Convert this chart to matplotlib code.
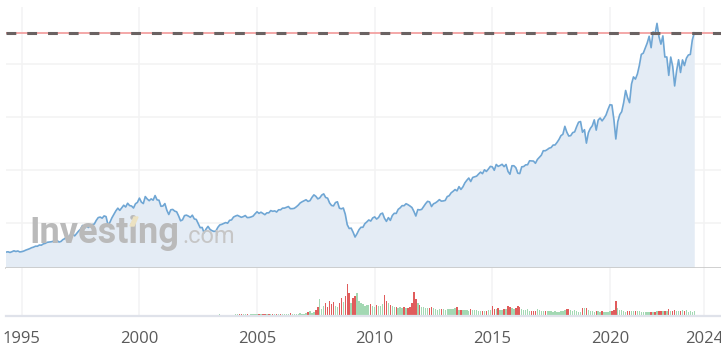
import matplotlib
matplotlib.use('Agg')
import matplotlib.pyplot as plt
import numpy as np
from matplotlib.patches import Polygon

# monthly closes, Jan 1994 .. Jul 2023 (plotted at month end)
close = [
    481.6, 467.1, 445.8, 450.9, 456.5, 444.3, 458.3, 475.5, 462.7, 472.4, 453.7, 459.3,
    470.4, 487.4, 500.7, 514.7, 533.4, 544.8, 562.1, 561.9, 584.4, 581.5, 605.4, 615.9,
    636.0, 640.4, 645.5, 654.2, 669.1, 670.6, 639.9, 652.0, 687.3, 705.3, 757.0, 740.7,
    786.2, 790.8, 757.1, 801.3, 848.3, 885.1, 954.3, 899.5, 947.3, 914.6, 955.4, 970.4,
    980.3, 1049.3, 1101.8, 1111.8, 1090.8, 1133.8, 1120.7, 957.3, 1017.0, 1098.7, 1163.6, 1229.2,
    1279.6, 1238.3, 1286.4, 1335.2, 1301.8, 1372.7, 1328.7, 1320.4, 1282.7, 1362.9, 1388.9, 1469.3,
    1394.5, 1366.4, 1498.6, 1452.4, 1420.6, 1454.6, 1430.8, 1517.7, 1436.5, 1429.4, 1315.2, 1320.3,
    1366.0, 1239.9, 1160.3, 1249.5, 1255.8, 1224.4, 1211.2, 1133.6, 1040.9, 1059.8, 1139.5, 1148.1,
    1130.2, 1106.7, 1147.4, 1076.9, 1067.1, 989.8, 911.6, 916.1, 815.3, 885.8, 936.3, 879.8,
    855.7, 841.2, 848.2, 916.9, 963.6, 974.5, 990.3, 1008.0, 996.0, 1050.7, 1058.2, 1111.9,
    1131.1, 1144.9, 1126.2, 1107.3, 1120.7, 1140.8, 1101.7, 1104.2, 1114.6, 1130.2, 1173.8, 1211.9,
    1181.3, 1203.6, 1180.6, 1156.9, 1191.5, 1191.3, 1234.2, 1220.3, 1228.8, 1207.0, 1249.5, 1248.3,
    1280.1, 1280.7, 1294.9, 1310.6, 1270.1, 1270.2, 1276.7, 1303.8, 1335.9, 1377.9, 1400.6, 1418.3,
    1438.2, 1406.8, 1420.9, 1482.4, 1530.6, 1503.4, 1455.3, 1474.0, 1526.8, 1549.4, 1481.1, 1468.4,
    1378.6, 1330.6, 1322.7, 1385.6, 1400.4, 1280.0, 1267.4, 1282.8, 1166.4, 968.8, 896.2, 903.3,
    825.9, 735.1, 797.9, 872.8, 919.1, 919.3, 987.5, 1020.6, 1057.1, 1036.2, 1095.6, 1115.1,
    1073.9, 1104.5, 1169.4, 1186.7, 1089.4, 1030.7, 1101.6, 1049.3, 1141.2, 1183.3, 1180.6, 1257.6,
    1286.1, 1327.2, 1325.8, 1363.6, 1345.2, 1320.6, 1292.3, 1218.9, 1131.4, 1253.3, 1247.0, 1257.6,
    1312.4, 1365.7, 1408.5, 1397.9, 1310.3, 1362.2, 1379.3, 1406.6, 1440.7, 1412.2, 1416.2, 1426.2,
    1498.1, 1514.7, 1569.2, 1597.6, 1630.7, 1606.3, 1685.7, 1633.0, 1681.6, 1756.5, 1805.8, 1848.4,
    1782.6, 1859.5, 1872.3, 1883.9, 1923.6, 1960.2, 1930.7, 2003.4, 1972.3, 2018.1, 2067.6, 2058.9,
    1995.0, 2104.5, 2067.9, 2085.5, 2107.4, 2063.1, 2103.8, 1972.2, 1920.0, 2079.4, 2080.4, 2043.9,
    1940.2, 1932.2, 2059.7, 2065.3, 2096.9, 2098.9, 2173.6, 2171.0, 2168.3, 2126.2, 2199.0, 2238.8,
    2278.9, 2363.6, 2362.7, 2384.2, 2411.8, 2423.4, 2470.3, 2471.7, 2519.4, 2575.3, 2647.6, 2673.6,
    2823.8, 2713.8, 2640.9, 2648.1, 2705.3, 2718.4, 2816.3, 2901.5, 2914.0, 2711.7, 2760.2, 2506.9,
    2704.1, 2784.5, 2834.4, 2945.8, 2752.1, 2941.8, 2980.4, 2926.5, 2976.7, 3037.6, 3141.0, 3230.8,
    3225.5, 2954.2, 2584.6, 2912.4, 3044.3, 3100.3, 3271.1, 3500.3, 3363.0, 3270.0, 3621.6, 3756.1,
    3714.2, 3811.2, 3972.9, 4181.2, 4204.1, 4297.5, 4395.3, 4522.7, 4307.5, 4605.4, 4567.0, 4766.2,
    4515.6, 4373.9, 4530.4, 4131.9, 4132.2, 3785.4, 4130.3, 3955.0, 3585.6, 3872.0, 4080.1, 3839.5,
    4076.6, 3970.2, 4109.3, 4169.5, 4179.8, 4450.4, 4589.0,
]
# monthly volume (relative), Jan 2001 .. Jul 2023
volume = [
    0, 0, 0.5, 0.5, 0.5, 0.5, 0.5, 0.5, 0.5, 0.5, 0.5, 0.5,
    1, 1, 1, 1, 1, 1, 1.5, 1, 1, 1, 1, 1,
    1.5, 1.5, 1.5, 1.5, 2, 1.5, 1.5, 1.5, 1.5, 1.5, 1.5, 1.5,
    2, 2, 2.5, 2, 2, 2, 2, 1.5, 2, 2, 2, 2,
    2, 2, 2, 2.5, 2, 2, 2, 2, 2, 2.5, 2, 2,
    2.5, 2.5, 2.5, 2.5, 3, 2.5, 2.5, 2.5, 2.5, 3, 2.5, 2.5,
    3, 4, 5, 3, 4, 6, 9, 17, 7, 10, 13, 9,
    15, 12, 14, 10, 9, 13, 18, 14, 20, 32, 23, 13,
    18, 20, 23, 15, 13, 12, 10, 11, 11, 12, 10, 9,
    11, 10, 10, 12, 21, 15, 13, 11, 10, 9, 9, 8,
    9, 8, 9, 8, 8, 9, 13, 24, 17, 13, 11, 9,
    9, 8, 8, 8, 9, 8, 7, 6, 7, 7, 7, 6,
    7, 7, 7, 7, 8, 9, 6, 6, 6, 6, 6, 5,
    7, 6, 6, 6, 5, 5, 5, 5, 5, 6, 6, 10,
    7, 7, 8, 6, 6, 7, 7, 10, 9, 8, 7, 8,
    10, 9, 7, 6, 6, 7, 5, 5, 5, 5, 7, 6,
    5, 5, 5, 5, 5, 5, 4, 5, 4, 4, 5, 5,
    6, 7, 7, 6, 5, 6, 5, 4, 4, 8, 8, 8,
    6, 5, 5, 4, 5, 5, 4, 5, 4, 4, 4, 5,
    5, 6, 15.5, 8, 6, 6, 5, 4, 5, 5, 5, 5,
    5, 5, 5, 4, 4, 4, 4, 4, 4, 4, 4, 5,
    5, 5, 5, 5, 5, 7, 5, 5, 6, 5, 5, 5,
    6, 5, 6, 4, 5, 4, 5,
]
tick_years = [1995, 2000, 2005, 2010, 2015, 2020, 2024]
grid_levels = [1000, 2000, 3000, 4000]

first_year = 1994
vol_first_year = 2001

# month-end positions
t = first_year + (np.arange(len(close)) + 1) / 12
tv = vol_first_year + (np.arange(len(volume)) + 1) / 12
off = (vol_first_year - first_year) * 12
prev = np.array(close[off - 1:off - 1 + len(volume)])
cur = np.array(close[off:off + len(volume)])
vcol = np.where(cur < prev, '#e05c5c', '#a3d8b3')

W, H = 721, 358
fig = plt.figure(figsize=(W / 100, H / 100), dpi=100)
ax = fig.add_axes([6 / W, 1 - 268 / H, 1 - 6 / W, (268 - 7) / H])
axv = fig.add_axes([6 / W, 1 - 316 / H, 1 - 6 / W, 48 / H])

xmin, xmax = 1994.33, 2024.72
ymin, ymax = 151, 5075

for a in (ax, axv):
    a.set_xlim(xmin, xmax)
    for s in a.spines.values():
        s.set_visible(False)
    a.set_yticks([])
    for yr in tick_years:
        a.axvline(yr, color='#f3f3f5', lw=1.2, zorder=0)

ax.set_ylim(ymin, ymax)
for lv in grid_levels:
    ax.axhline(lv, color='#f3f3f3', lw=1.2, zorder=0)
ax.fill_between(t, close, ymin, color='#e4ecf5', lw=0, zorder=1)
ax.plot(t, close, color='#6fa6d4', lw=1.2, zorder=2)
ax.spines['bottom'].set_visible(True)
ax.spines['bottom'].set_color('#c8c8c8')
ax.spines['bottom'].set_linewidth(1.2)
ax.set_xticks([])

last = close[-1]
ax.axhline(last, color='#f29a9a', lw=1.2, zorder=3)
ax.plot([xmin, xmax], [last, last], color='#6a6262', lw=2.2,
        dashes=(3.2, 3.6), zorder=4)

axv.set_ylim(0, 48)
axv.bar(tv, volume, width=0.06, color=vcol, lw=0, align='center',
        antialiased=False, zorder=2)
axv.spines['bottom'].set_visible(True)
axv.spines['bottom'].set_color('#dfe2ea')
axv.spines['bottom'].set_linewidth(1.6)
axv.set_xticks(tick_years)
axv.set_xticklabels([str(y) for y in tick_years])
axv.tick_params(axis='x', length=0, pad=11, labelsize=12, labelcolor='#5a5a5a')
for lb in axv.get_xticklabels():
    lb.set_fontfamily('Open Sans')

# watermark
fig.text(29 / W, 1 - 243 / H, 'Investing', fontsize=26, fontweight='bold',
         family='Roboto', color='#bababa', va='baseline', ha='left', zorder=10)
fig.text(182 / W, 1 - 243 / H, '.com', fontsize=17, family='Roboto',
         color='#c6c6c6', va='baseline', ha='left', zorder=10)
acc = Polygon([[130 / W, 1 - 226 / H], [134 / W, 1 - 217 / H],
               [138 / W, 1 - 217 / H], [134 / W, 1 - 226 / H]],
              closed=True, transform=fig.transFigure, color='#ece2c2', zorder=11)
fig.patches.append(acc)

fig.savefig('out.png', dpi=100)
